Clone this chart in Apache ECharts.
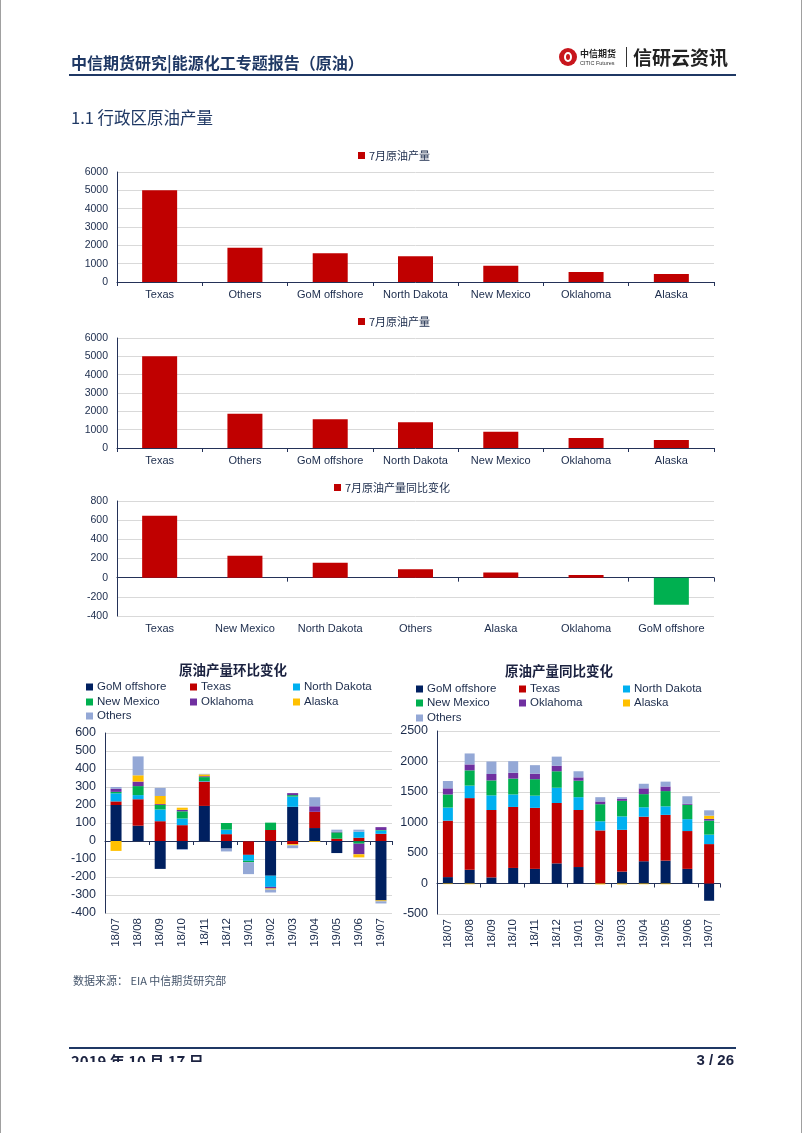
<!DOCTYPE html>
<html><head><meta charset="utf-8">
<script src="https://cdn.jsdelivr.net/npm/echarts@6/dist/echarts.min.js"></script>
<style>
html,body{margin:0;padding:0;background:#fff;}
#page{position:relative;width:802px;height:1133px;overflow:hidden;font-family:"Noto Sans CJK SC","Liberation Sans",sans-serif;box-sizing:border-box;border-left:1px solid #a0a0a0;border-right:1px solid #a0a0a0;}
#chart{position:absolute;left:0;top:0;width:802px;height:1133px;}
.t{position:absolute;white-space:nowrap;line-height:1;}
</style></head><body>
<div id="page">
<div id="chart"></div>
<div class="t" style="left:70px;top:54px;font-size:16px;font-weight:bold;color:#1f3864;">中信期货研究|能源化工专题报告（原油）</div>
<div style="position:absolute;left:68px;top:74px;width:667px;height:1.5px;background:#1f3864;"></div>
<div style="position:absolute;left:558px;top:48px;width:18px;height:18px;border-radius:50%;background:#c8161d;"></div>
<div style="position:absolute;left:563px;top:52px;width:8px;height:10px;border:2px solid #fff;border-radius:50%;box-sizing:border-box;"></div>
<div class="t" style="left:579px;top:49px;font-size:9px;font-weight:bold;color:#222;">中信期货</div>
<div class="t" style="left:579px;top:61px;font-size:5.5px;color:#333;font-family:'Liberation Sans';">CITIC Futures</div>
<div style="position:absolute;left:625px;top:47px;width:1px;height:20px;background:#333;"></div>
<div class="t" style="left:632px;top:47px;font-size:19px;font-weight:bold;color:#222;">信研云资讯</div>
<div class="t" style="left:70px;top:109px;font-size:16.5px;color:#1f3864;">1.1 行政区原油产量</div>
<div class="t" id="tl" style="left:232px;top:663px;font-size:13.5px;font-weight:bold;color:#1b2240;transform:translateX(-50%);">原油产量环比变化</div>
<div class="t" id="tr" style="left:558px;top:664px;font-size:13.5px;font-weight:bold;color:#1b2240;transform:translateX(-50%);">原油产量同比变化</div>
<div class="t" style="left:72px;top:975px;font-size:11px;color:#44546a;">数据来源： EIA 中信期货研究部</div>
<div style="position:absolute;left:68px;top:1047px;width:667px;height:2px;background:#1f3864;"></div>
<div style="position:absolute;left:70px;top:1053px;height:9px;overflow:hidden;"><div class="t" style="position:relative;font-size:15px;font-weight:bold;color:#1b2240;">2019 年 10 月 17 日</div></div>
<div class="t" style="right:67px;top:1052px;font-size:15px;font-weight:bold;color:#1b2240;font-family:'Liberation Sans';">3 / 26</div>
</div>
<script>
// ---------- data ----------
const regions1 = ['Texas','Others','GoM offshore','North Dakota','New Mexico','Oklahoma','Alaska'];
const julyOutput = [5000, 1870, 1565, 1405, 880, 550, 432];
const regions3 = ['Texas','New Mexico','North Dakota','Others','Alaska','Oklahoma','GoM offshore'];
const julyYoY = [646, 230, 155, 88, 53, 28, -283];
const months = ['18/07','18/08','18/09','18/10','18/11','18/12','19/01','19/02','19/03','19/04','19/05','19/06','19/07'];
const seriesNames = ['GoM offshore','Texas','North Dakota','New Mexico','Oklahoma','Alaska','Others'];
// month-on-month change
const momGoM    = [200, 85, -155, -45, 195, -42, -2, -193, 190, 72, -67, -2, -330];
const momTexas  = [20, 147, 110, 88, 135, 38, -75, 61, -18, 90, 13, 18, 40];
const momND     = [45, 23, 65, 37, 3, 25, -33, -62, 57, 0, 0, 34, 18];
const momNM     = [8, 50, 25, 40, 22, 37, -8, 41, 8, 0, 35, -13, 3];
const momOK     = [17, 25, 5, 8, 5, 0, 0, -9, 11, 31, 3, -59, 16];
const momAK     = [-55, 35, 45, 12, 10, 0, 0, -6, -6, -5, 0, -17, -5];
const momOthers = [10, 105, 45, -5, 3, -16, -66, -16, -16, 50, 12, 11, -12];
// year-on-year change
const yoyGoM    = [105, 225, 100, 255, 240, 330, 270, 0, 195, 365, 375, 240, -283];
const yoyTexas  = [925, 1175, 1105, 1000, 1000, 990, 935, 870, 685, 730, 750, 620, 646];
const yoyND     = [215, 205, 240, 205, 200, 250, 210, 150, 220, 155, 140, 195, 155];
const yoyNM     = [215, 250, 245, 260, 270, 270, 270, 280, 255, 215, 250, 235, 230];
const yoyOK     = [100, 97, 105, 95, 90, 90, 55, 45, 35, 95, 75, 15, 28];
const yoyAK     = [-10, -12, 0, 0, 0, 0, 0, -15, -15, -12, -12, 0, 53];
const yoyOthers = [120, 180, 205, 190, 140, 150, 100, 70, 25, 75, 80, 125, 88];

// ---------- style ----------
const AXIS = '#243258', TXT = '#1b2b4b', GRIDC = '#d9d9d9';
const COLORS = ['#002060','#c00000','#00b0f0','#00b050','#7030a0','#ffc000','#94a8d6'];
const LAT = 'Liberation Sans', CJK = 'Noto Sans CJK SC';

const chart = echarts.init(document.getElementById('chart'), null, {renderer:'canvas'});

const grids = [
  {left:116, top:172, width:597, height:110},
  {left:116, top:338, width:597, height:110},
  {left:116, top:501, width:597, height:115},
  {left:104, top:733, width:287, height:180},
  {left:436, top:731, width:283, height:183}
].map(g => Object.assign({containLabel:false, outerBoundsMode:'none'}, g));

function yAx(gi, min, max, intv, fs){
  return {type:'value', gridIndex:gi, min, max, interval:intv,
    axisLine:{show:true, lineStyle:{color:AXIS, width:1}},
    axisTick:{show:false},
    splitLine:{show:true, lineStyle:{color:GRIDC, width:1}},
    axisLabel:{color:TXT, fontSize:fs, fontFamily:LAT, margin:9, formatter: v => String(v)}};
}
function xFull(gi, cats){
  return {type:'category', gridIndex:gi, data:cats,
    axisLine:{show:true, onZero:true, lineStyle:{color:AXIS, width:1}},
    axisTick:{show:true, length:4, lineStyle:{color:AXIS}},
    axisLabel:{color:TXT, fontSize:11, fontFamily:LAT, margin:7, interval:0}};
}
function xLabels(gi, cats, rot, fs, margin){
  return {type:'category', gridIndex:gi, data:cats, position:'bottom',
    axisLine:{show:false, onZero:false}, axisTick:{show:false},
    axisLabel:{color:TXT, fontSize:fs, fontFamily:LAT, margin:margin, rotate:rot, interval:0}};
}
function xZeroLine(gi, cats){
  return {type:'category', gridIndex:gi, data:cats, position:'bottom',
    axisLine:{show:true, onZero:true, lineStyle:{color:AXIS, width:1}},
    axisTick:{show:true, length:4, lineStyle:{color:AXIS}},
    axisLabel:{show:false}};
}

const xAxis = [
  xFull(0, regions1),
  xFull(1, regions1),
  xLabels(2, regions3, 0, 11, 7),
  xZeroLine(2, regions3),
  xLabels(3, months, 90, 11.5, 5),
  xZeroLine(3, months),
  xLabels(4, months, 90, 11.5, 5),
  xZeroLine(4, months)
];
const yAxis = [
  yAx(0, 0, 6000, 1000, 10.5),
  yAx(1, 0, 6000, 1000, 10.5),
  yAx(2, -400, 800, 200, 10.5),
  yAx(3, -400, 600, 100, 12.5),
  yAx(4, -500, 2500, 500, 12.5)
];

const series = [
  {type:'bar', name:'7月原油产量', xAxisIndex:0, yAxisIndex:0, data:julyOutput, barWidth:35, itemStyle:{color:'#c00000'}},
  {type:'bar', name:'7月原油产量', xAxisIndex:1, yAxisIndex:1, data:julyOutput, barWidth:35, itemStyle:{color:'#c00000'}},
  {type:'bar', name:'7月原油产量同比变化', xAxisIndex:2, yAxisIndex:2, data:julyYoY, barWidth:35,
    itemStyle:{color: p => p.value < 0 ? '#00b050' : '#c00000'}}
];
const momData = [momGoM, momTexas, momND, momNM, momOK, momAK, momOthers];
const yoyData = [yoyGoM, yoyTexas, yoyND, yoyNM, yoyOK, yoyAK, yoyOthers];
seriesNames.forEach((n, i) => {
  series.push({type:'bar', name:n, xAxisIndex:4, yAxisIndex:3, stack:'mom', data:momData[i], barWidth:11, itemStyle:{color:COLORS[i]}});
});
seriesNames.forEach((n, i) => {
  series.push({type:'bar', name:n, xAxisIndex:6, yAxisIndex:4, stack:'yoy', data:yoyData[i], barWidth:10, itemStyle:{color:COLORS[i]}});
});

function leg(names, x, y, fs, fam){
  return {data:names, left:x, top:y-7, orient:'horizontal', itemWidth:7, itemHeight:7, itemGap:0, icon:'rect',
    padding:0, selectedMode:false,
    textStyle:{fontSize:fs, color:TXT, fontFamily:fam, padding:[0,0,0,-1]}};
}
const legend = [
  leg([{name:'7月原油产量', itemStyle:{color:'#c00000'}}], 357, 157, 11, CJK),
  leg([{name:'7月原油产量', itemStyle:{color:'#c00000'}}], 357, 323, 11, CJK),
  leg([{name:'7月原油产量同比变化', itemStyle:{color:'#c00000'}}], 333, 489, 11, CJK)
];
const lcolL = [85, 189, 292], lrowL = [688, 703, 717];
const lcolR = [415, 518, 622], lrowR = [690, 704, 719];
seriesNames.forEach((n, i) => {
  const c = i % 3, r = Math.floor(i / 3);
  legend.push(leg([n], lcolL[c], lrowL[r], 11.5, LAT));
  legend.push(leg([n], lcolR[c], lrowR[r], 11.5, LAT));
});

chart.setOption({
  animation:false,
  backgroundColor:'transparent',
  grid:grids, xAxis, yAxis, series, legend
});
</script>
</body></html>
